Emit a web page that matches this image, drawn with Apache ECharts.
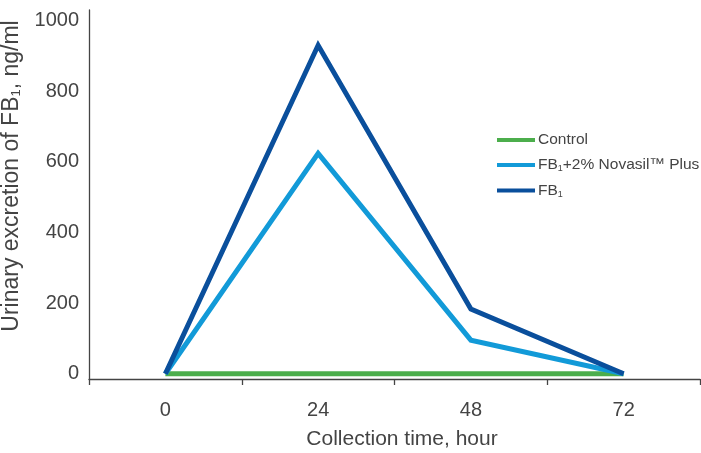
<!DOCTYPE html>
<html>
<head>
<meta charset="utf-8">
<script src="https://cdn.jsdelivr.net/npm/echarts@6/dist/echarts.min.js"></script>
<style>html,body{margin:0;padding:0;background:#fff}#c{width:701px;height:453px}</style>
</head>
<body>
<div id="c"></div>
<script>
var categories = ['0', '24', '48', '72'];
var controlValues = [0, 0, 0, 0];
var novasilValues = [0, 624, 95, 0];
var fb1Values = [0, 930, 183, 0];
var yTickLabels = [0, 200, 400, 600, 800, 1000];
var seriesNames = ['Control', 'FB1+2% Novasil™ Plus', 'FB1'];

var FONT = '"Liberation Sans", Arial, sans-serif';
var TXT = '#444';
var chart = echarts.init(document.getElementById('c'), null, {renderer: 'canvas'});
function withSub(s) {
  return s.replace(/FB1/g, 'FB{sub|1}');
}
chart.setOption({
  animation: false,
  grid: {left: 89, right: 1, top: 10, bottom: 74, containLabel: false, outerBoundsMode: 'none'},
  legend: {
    orient: 'vertical',
    left: 492,
    top: 127,
    icon: 'rect',
    itemWidth: 38,
    itemHeight: 4,
    itemGap: 9,
    data: seriesNames,
    formatter: function (n) { return withSub(n); },
    textStyle: {
      fontFamily: FONT, fontSize: 15.5, color: TXT, padding: [0, 0, 0, -2],
      rich: {sub: {fontSize: 9, color: TXT, fontFamily: FONT, padding: [8, 0, 0, 0]}}
    }
  },
  xAxis: {
    type: 'category',
    data: categories,
    boundaryGap: true,
    axisLine: {onZero: false, lineStyle: {color: '#444', width: 1.3}},
    axisTick: {show: true, length: 6, lineStyle: {color: '#444', width: 1.3}},
    axisLabel: {fontFamily: FONT, fontSize: 20, color: TXT, margin: 21},
    name: 'Collection time, hour',
    nameLocation: 'middle',
    nameGap: 50,
    nameTextStyle: {fontFamily: FONT, fontSize: 21, color: TXT, padding: [0, 0, 0, 15]}
  },
  yAxis: {
    type: 'value',
    min: -15,
    max: 1030,
    interval: 5,
    axisLine: {show: true, lineStyle: {color: '#444', width: 1.3}},
    axisTick: {show: false},
    splitLine: {show: false},
    axisLabel: {
      fontFamily: FONT, fontSize: 20, color: TXT, margin: 10,
      formatter: function (v) { return yTickLabels.indexOf(v) >= 0 ? String(v) : ''; }
    },
    name: withSub('Urinary excretion of FB1, ng/ml'),
    nameLocation: 'middle',
    nameGap: 54,
    nameTextStyle: {
      fontFamily: FONT, fontSize: 23, color: TXT, padding: [0, 0, 0, 37],
      rich: {sub: {fontSize: 13, color: TXT, fontFamily: FONT, padding: [9, 0, 0, 0]}}
    }
  },
  series: [
    {name: seriesNames[0], type: 'line', data: controlValues, symbol: 'none', color: '#4cae4c',
      lineStyle: {width: 5, color: '#4cae4c', join: 'miter', miterLimit: 10}},
    {name: seriesNames[1], type: 'line', data: novasilValues, symbol: 'none', color: '#129ad8',
      lineStyle: {width: 5, color: '#129ad8', join: 'miter', miterLimit: 10}},
    {name: seriesNames[2], type: 'line', data: fb1Values, symbol: 'none', color: '#0a4f9c',
      lineStyle: {width: 5, color: '#0a4f9c', join: 'miter', miterLimit: 10}}
  ]
});
</script>
</body>
</html>
